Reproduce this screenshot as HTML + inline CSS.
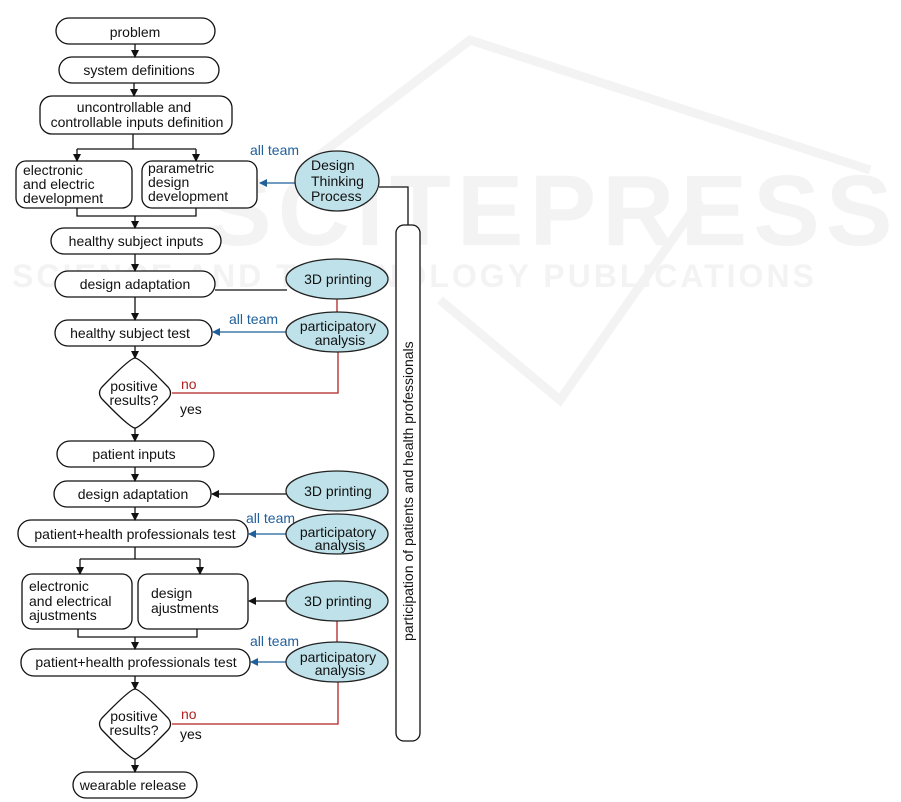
<!DOCTYPE html>
<html><head><meta charset="utf-8"><style>
html,body{margin:0;padding:0;background:#fff;}
svg{display:block;font-family:"Liberation Sans","DejaVu Sans",sans-serif;}
</style></head><body>
<svg width="901" height="802" viewBox="0 0 901 802" xmlns="http://www.w3.org/2000/svg">
<defs>
<marker id="ab" markerWidth="8" markerHeight="8" refX="7" refY="4" orient="auto" markerUnits="userSpaceOnUse"><path d="M0,0 L8,4 L0,8 z" fill="#111"/></marker>
<marker id="au" markerWidth="8" markerHeight="8" refX="7" refY="4" orient="auto" markerUnits="userSpaceOnUse"><path d="M0,0 L8,4 L0,8 z" fill="#1f5f9a"/></marker>
</defs>
<!-- watermark -->
<g fill="#f3f3f3" font-weight="bold">
<text x="205" y="245" font-size="100" letter-spacing="6">SCITEPRESS</text>
<text x="12" y="287" font-size="32" letter-spacing="3">SCIENCE AND TECHNOLOGY PUBLICATIONS</text>
</g>
<g fill="none" stroke="#f3f3f3" stroke-width="9"><path d="M300,170 L470,40 L870,170"/><path d="M440,300 L560,400 L700,200"/></g>

<g fill="#fff" stroke="#111" stroke-width="1.3">
<rect x="56" y="18" width="159" height="26" rx="13"/>
<rect x="59" y="57" width="160" height="26" rx="13"/>
<rect x="40" y="96" width="192" height="38" rx="12"/>
<rect x="16" y="161" width="116" height="47" rx="10"/>
<rect x="142" y="161" width="115" height="47" rx="10"/>
<rect x="51" y="228" width="170" height="26" rx="13"/>
<rect x="55" y="271" width="160" height="26" rx="13"/>
<rect x="55" y="320" width="157" height="26" rx="13"/>
<path d="M135,358 Q140,358 168,387 Q173,393 168,399 Q140,428 135,428 Q130,428 102,399 Q97,393 102,387 Q130,358 135,358 z"/>
<rect x="57" y="441" width="157" height="26" rx="13"/>
<rect x="54" y="481" width="157" height="26" rx="13"/>
<rect x="18" y="520" width="230" height="27" rx="13"/>
<rect x="22" y="574" width="110" height="55" rx="10"/>
<rect x="138" y="574" width="110" height="55" rx="10"/>
<rect x="21" y="649" width="229" height="27" rx="13"/>
<path d="M135,689 Q140,689 168,718 Q173,724 168,730 Q140,759 135,759 Q130,759 102,730 Q97,724 102,718 Q130,689 135,689 z"/>
<rect x="73" y="772" width="124" height="26" rx="13"/>
<rect x="396" y="225" width="24" height="516" rx="8"/>
</g>

<g stroke="#111" stroke-width="1.3" fill="none" marker-end="url(#ab)">
<line x1="135" y1="44" x2="135" y2="57"/>
<line x1="134" y1="83" x2="134" y2="96"/>
<line x1="77" y1="149" x2="77" y2="161"/>
<line x1="196" y1="149" x2="196" y2="161"/>
<line x1="135" y1="216" x2="135" y2="228"/>
<line x1="135" y1="254" x2="135" y2="271"/>
<line x1="135" y1="297" x2="135" y2="320"/>
<line x1="135" y1="346" x2="135" y2="358"/>
<line x1="135" y1="428" x2="135" y2="441"/>
<line x1="135" y1="467" x2="135" y2="481"/>
<line x1="135" y1="507" x2="135" y2="520"/>
<line x1="80" y1="559" x2="80" y2="574"/>
<line x1="200" y1="559" x2="200" y2="574"/>
<line x1="135" y1="637" x2="135" y2="649"/>
<line x1="135" y1="676" x2="135" y2="689"/>
<line x1="135" y1="759" x2="135" y2="772"/>
<line x1="287" y1="494" x2="212" y2="494"/>
<line x1="287" y1="601" x2="249" y2="601"/>
</g>
<g stroke="#111" stroke-width="1.3" fill="none">
<line x1="133" y1="134" x2="133" y2="149"/>
<line x1="77" y1="149" x2="196" y2="149"/>
<path d="M77,208 V216 H196 V208"/>
<line x1="135" y1="547" x2="135" y2="559"/>
<line x1="80" y1="559" x2="200" y2="559"/>
<path d="M78,629 V637 H197 V629"/>
<line x1="215" y1="290" x2="287" y2="290"/>
<path d="M379,187 H408 V225"/>
</g>
<g stroke="#1f5f9a" stroke-width="1.3" fill="none" marker-end="url(#au)">
<line x1="295" y1="183" x2="260" y2="183"/>
<line x1="286" y1="332" x2="213" y2="332"/>
<line x1="286" y1="534" x2="249" y2="534"/>
<line x1="286" y1="662" x2="251" y2="662"/>
</g>
<g stroke="#b22222" stroke-width="1.3" fill="none">
<line x1="337" y1="299" x2="337" y2="313"/>
<path d="M172,393 H338 V351"/>
<line x1="337" y1="621" x2="337" y2="643"/>
<path d="M172,724 H338 V682"/>
</g>
<g fill="#bfe2ea" stroke="#222" stroke-width="1.3">
<ellipse cx="337" cy="181" rx="42" ry="30"/>
<ellipse cx="337" cy="279" rx="51" ry="20"/>
<ellipse cx="337" cy="332" rx="51" ry="20"/>
<ellipse cx="337" cy="491" rx="51" ry="20"/>
<ellipse cx="337" cy="534" rx="51" ry="20"/>
<ellipse cx="337" cy="601" rx="51" ry="20"/>
<ellipse cx="337" cy="662" rx="51" ry="20"/>
</g>

<g font-size="14" fill="#111" text-anchor="middle">
<text x="135" y="37">problem</text>
<text x="139" y="75">system definitions</text>
<text x="134" y="112">uncontrollable and</text>
<text x="137" y="127">controllable inputs definition</text>
<text x="136" y="246">healthy subject inputs</text>
<text x="135" y="289">design adaptation</text>
<text x="130" y="338">healthy subject test</text>
<text x="134" y="391">positive</text>
<text x="134" y="405">results?</text>
<text x="134" y="459">patient inputs</text>
<text x="133" y="499">design adaptation</text>
<text x="135" y="539">patient+health professionals test</text>
<text x="136" y="667">patient+health professionals test</text>
<text x="134" y="721">positive</text>
<text x="134" y="735">results?</text>
<text x="133" y="790">wearable release</text>
<text x="338" y="284">3D printing</text>
<text x="338" y="331">participatory</text>
<text x="340" y="345">analysis</text>
<text x="338" y="496">3D printing</text>
<text x="338" y="537">participatory</text>
<text x="340" y="550">analysis</text>
<text x="338" y="606">3D printing</text>
<text x="338" y="662">participatory</text>
<text x="340" y="675">analysis</text>
</g>
<g font-size="14" fill="#111">
<text x="23" y="175">electronic</text>
<text x="23" y="189">and electric</text>
<text x="23" y="203">development</text>
<text x="148" y="173">parametric</text>
<text x="148" y="187">design</text>
<text x="148" y="201">development</text>
<text x="311" y="170">Design</text>
<text x="311" y="186">Thinking</text>
<text x="311" y="201">Process</text>
<text x="29" y="591">electronic</text>
<text x="29" y="606">and electrical</text>
<text x="29" y="620">ajustments</text>
<text x="151" y="598">design</text>
<text x="151" y="613">ajustments</text>
<text x="180" y="414">yes</text>
<text x="180" y="739">yes</text>
<text x="413" y="641" transform="rotate(-90 413 641)">participation of patients and health professionals</text>
</g>
<g font-size="14" fill="#1f5f9a">
<text x="250" y="155">all team</text>
<text x="229" y="324">all team</text>
<text x="246" y="523">all team</text>
<text x="250" y="646">all team</text>
</g>
<g font-size="14" fill="#b22222">
<text x="181" y="389">no</text>
<text x="181" y="719">no</text>
</g>
</svg>
</body></html>
